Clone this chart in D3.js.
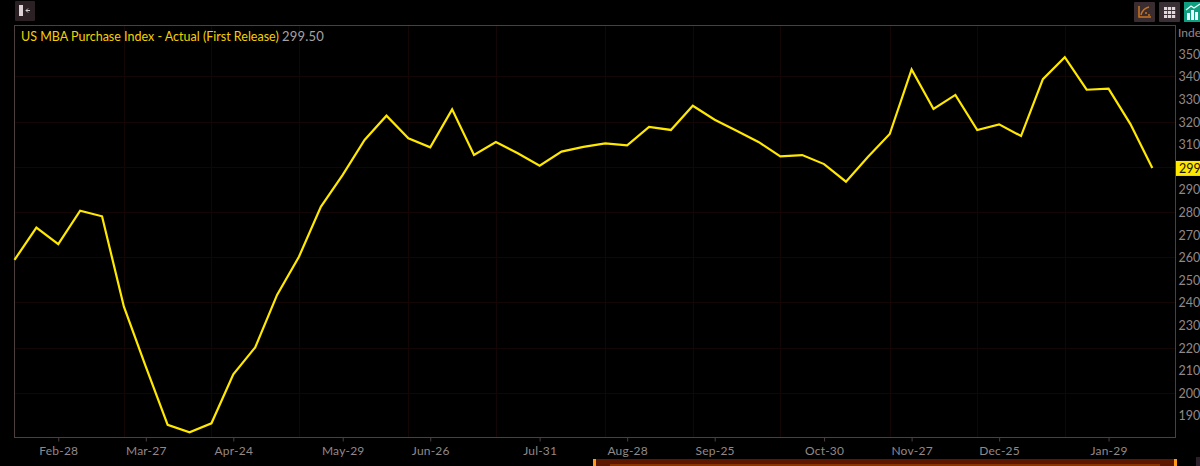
<!DOCTYPE html>
<html><head><meta charset="utf-8">
<script src="https://cdn.jsdelivr.net/npm/d3@7"></script>
<style>html,body{margin:0;padding:0;background:#000;overflow:hidden}svg{display:block}text{font-family:Lato,"Open Sans",sans-serif}</style>
</head><body><svg id="c" width="1200" height="466"></svg>
<script>
const seriesName = "US MBA Purchase Index - Actual (First Release)";
const lastValue = "299.50";
const weeks = ["2020-02-14","2020-02-21","2020-02-28","2020-03-06","2020-03-13","2020-03-20","2020-03-27","2020-04-03","2020-04-10","2020-04-17","2020-04-24","2020-05-01","2020-05-08","2020-05-15","2020-05-22","2020-05-29","2020-06-05","2020-06-12","2020-06-19","2020-06-26","2020-07-03","2020-07-10","2020-07-17","2020-07-24","2020-07-31","2020-08-07","2020-08-14","2020-08-21","2020-08-28","2020-09-04","2020-09-11","2020-09-18","2020-09-25","2020-10-02","2020-10-09","2020-10-16","2020-10-23","2020-10-30","2020-11-06","2020-11-13","2020-11-20","2020-11-27","2020-12-04","2020-12-11","2020-12-18","2020-12-25","2021-01-01","2021-01-08","2021-01-15","2021-01-22","2021-01-29","2021-02-05","2021-02-12"];
const values = [258.8,273.1,265.8,280.6,278.1,238.1,211.6,185.8,182.5,186.5,208.2,220.1,243.3,260.2,282.3,296.4,311.9,322.6,312.6,308.6,325.4,305.2,311,306,300.5,306.7,308.8,310.4,309.5,317.7,316.3,327,320.8,316,311,304.6,305.2,301.2,293.4,304.3,314.5,343.1,325.6,331.8,316.3,318.8,313.6,338.8,348.5,334.1,334.6,318.9,299.5];
const dateTicks = ["2020-02-28","2020-03-27","2020-04-24","2020-05-29","2020-06-26","2020-07-31","2020-08-28","2020-09-25","2020-10-30","2020-11-27","2020-12-25","2021-01-29"];
const gridDates = ["2020-03-20","2020-04-17","2020-05-15","2020-06-19","2020-07-17","2020-08-21","2020-09-18","2020-10-16","2020-11-20","2020-12-18","2021-01-15"];
const yTicks = [190,200,210,220,230,240,250,260,270,280,290,310,320,330,340,350];
const yGrid = [200,220,240,260,280,300,320,340];

const parse = d3.utcParse("%Y-%m-%d");
const fmt = d3.utcFormat("%b-%d");
const x = d3.scaleUtc().domain([parse(weeks[0]), parse(weeks[weeks.length-1])]).range([14.5,1152.3]);
const y = d3.scaleLinear().domain([190,350]).range([415.4,53.8]);
const L=14.5,R=1175.5,T=25.5,B=437.5;
const svg = d3.select("#c");
const frame="#4b3f40", grid="#140605", tickCol="#928888";

// gridlines
svg.append("g").selectAll("line").data(gridDates).join("line")
  .attr("x1",d=>Math.round(x(parse(d)))+.5).attr("x2",d=>Math.round(x(parse(d)))+.5).attr("y1",T).attr("y2",B)
  .attr("stroke",grid);
svg.append("g").selectAll("line").data(yGrid).join("line")
  .attr("x1",L).attr("x2",R).attr("y1",d=>Math.round(y(d))+.5).attr("y2",d=>Math.round(y(d))+.5)
  .attr("stroke",grid);

// x axis
const xAxis = d3.axisBottom(x).tickValues(dateTicks.map(parse)).tickFormat(fmt).tickSize(4).tickPadding(5);
const gx = svg.append("g").attr("transform",`translate(0,${B})`).call(xAxis);
gx.select(".domain").remove();
gx.selectAll("line").attr("stroke",frame);
gx.selectAll("text").attr("fill",tickCol).attr("font-size",12).attr("font-family","Lato").attr("dy","0.72em").attr("letter-spacing",0.2);

// frame
svg.append("rect").attr("x",L).attr("y",T).attr("width",R-L).attr("height",B-T).attr("fill","none").attr("stroke",frame);

// y axis
const yAxis = d3.axisRight(y).tickValues(yTicks).tickFormat(d3.format("d")).tickSize(0).tickPadding(3.5);
const gy = svg.append("g").attr("transform",`translate(${R-0.5},0)`).call(yAxis);
gy.select(".domain").remove();
gy.selectAll("text").attr("fill",tickCol).attr("font-size",12.5).attr("font-family","Lato").attr("dy","0.36em");
svg.append("text").attr("x",1178).attr("y",37).attr("fill",tickCol).attr("font-size",12).text("Inde");

// line
const line = d3.line().x((d,i)=>x(parse(weeks[i]))).y(d=>y(d));
svg.append("path").datum(values).attr("d",line).attr("fill","none").attr("stroke","#ffe800").attr("stroke-width",2.2).attr("stroke-linejoin","miter");

// last value tag
const last = values[values.length-1];
svg.append("rect").attr("x",1176).attr("y",y(last)-7).attr("width",24).attr("height",15).attr("fill","#ffe800");
svg.append("text").attr("x",1179).attr("y",y(last)+5).attr("fill","#1a1400").attr("font-size",12.5).text(Math.floor(last));

// title
svg.append("text").attr("x",21).attr("y",40.5).attr("fill","#f5d000").attr("font-size",12.5).text(seriesName);
svg.append("text").attr("x",282).attr("y",40.5).attr("fill","#a8a2a2").attr("font-size",13).attr("letter-spacing",0.2).text(lastValue);

// bottom range bar
svg.append("rect").attr("x",594).attr("y",459).attr("width",581).attr("height",7).attr("fill","#5c1700");
svg.append("rect").attr("x",610).attr("y",464).attr("width",550).attr("height",2).attr("fill","#8a3500");
svg.append("rect").attr("x",593).attr("y",459).attr("width",3).attr("height",7).attr("fill","#ff9a1a");
svg.append("rect").attr("x",1174).attr("y",459).attr("width",3).attr("height",7).attr("fill","#ff9a1a");
svg.append("rect").attr("x",1196).attr("y",457).attr("width",4).attr("height",9).attr("fill","#2c1f2a");

// toolbar buttons
const tb = svg.append("g");
tb.append("rect").attr("x",15).attr("y",1).attr("width",20).attr("height",20).attr("rx",1).attr("fill","#2b2125");
tb.append("rect").attr("x",19).attr("y",5).attr("width",4).attr("height",11).attr("fill","#ddd3d6");
tb.append("path").attr("d","M30 10.5H26M28 8.5L26 10.5L28 12.5").attr("stroke","#ccc").attr("fill","none");

tb.append("rect").attr("x",1134).attr("y",2).attr("width",21).attr("height",20).attr("rx",1).attr("fill","#3a2d32");
tb.append("path").attr("d","M1139 6V17H1151M1141 15C1142 11 1145 8 1149 7").attr("stroke","#c9741f").attr("stroke-width",1.5).attr("fill","none");
tb.append("circle").attr("cx",1146).attr("cy",13).attr("r",1).attr("fill","#c9741f");
tb.append("circle").attr("cx",1149).attr("cy",15).attr("r",1).attr("fill","#c9741f");

tb.append("rect").attr("x",1159).attr("y",2).attr("width",21).attr("height",20).attr("rx",1).attr("fill","#3a2f35");
for(let r=0;r<3;r++) for(let c=0;c<3;c++)
  tb.append("rect").attr("x",1164+c*4).attr("y",7+r*4).attr("width",3.2).attr("height",3).attr("fill","#e0d8da");

tb.append("rect").attr("x",1184).attr("y",2).attr("width",16).attr("height",20).attr("fill","#0f9e80");
[[1187,13,3],[1191,10,3],[1195,12,3]].forEach(b=>tb.append("rect").attr("x",b[0]).attr("y",b[1]).attr("width",b[2]).attr("height",20-b[1]).attr("fill","#eafff8"));
tb.append("path").attr("d","M1186 10L1191 6L1194 8L1200 4").attr("stroke","#eafff8").attr("stroke-width",1.3).attr("fill","none");
</script></body></html>
